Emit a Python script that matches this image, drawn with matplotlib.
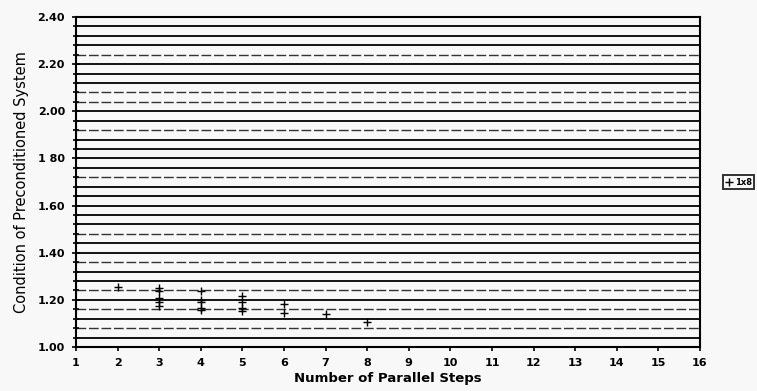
import matplotlib
matplotlib.use("Agg")
import matplotlib.pyplot as plt
import numpy as np

# Data
steps = [2, 3, 3, 3, 3, 3, 4, 4, 4, 4, 4, 5, 5, 5, 5, 6, 6, 7, 8]
condition = [1.256, 1.250, 1.236, 1.208, 1.193, 1.172,
             1.236, 1.200, 1.192, 1.165, 1.156,
             1.218, 1.190, 1.166, 1.152,
             1.184, 1.144, 1.141, 1.106]
series_label = "1x8"

x_ticks = list(range(1, 17))
y_ticks = [1.00, 1.20, 1.40, 1.60, 1.80, 2.00, 2.20, 2.40]
y_tick_labels = ["1.00", "1.20", "1.40", "1.60", "1 80", "2.00", "2.20", "2.40"]
grid_levels = [round(1.0 + 0.04 * i, 2) for i in range(1, 35)]
faint_levels = [2.24, 2.08, 2.04, 1.92, 1.72, 1.48, 1.36, 1.24, 1.16, 1.08]

bg = "#f8f8f8"
fig = plt.figure(figsize=(7.57, 3.91), dpi=100, facecolor=bg)
ax = fig.add_axes([0.1004, 0.1125, 0.8243, 0.844])
ax.set_facecolor(bg)

for lv in grid_levels:
    if lv in faint_levels:
        ax.axhline(lv, color="#333333", lw=1.0, ls=(0, (7, 2)), zorder=1)
    else:
        ax.axhline(lv, color="black", lw=1.3, zorder=1)

ax.plot(steps, condition, ls="none", marker="+", ms=6, mew=1.0,
        color="black", label=series_label, zorder=3)

ax.set_xlim(1, 16)
ax.set_ylim(1.0, 2.4)
ax.set_xticks(x_ticks)
ax.set_xticklabels([str(t) for t in x_ticks], fontsize=8, fontweight="bold")
ax.set_yticks(y_ticks)
ax.set_yticklabels(y_tick_labels, fontsize=8, fontweight="bold")
ax.set_yticks(np.arange(1.0, 2.4001, 0.04), minor=True)
ax.tick_params(axis="y", which="major", direction="inout", length=6, width=1.2, pad=5)
ax.tick_params(axis="y", which="minor", direction="inout", length=5, width=1.2)
ax.tick_params(axis="x", which="major", direction="out", length=3, width=1.2, pad=5)

for s in ax.spines.values():
    s.set_linewidth(1.5)
    s.set_color("black")

ax.set_xlabel("Number of Parallel Steps", fontsize=9.5, fontweight="bold", labelpad=3)
ax.set_ylabel("Condition of Preconditioned System", fontsize=10.5, labelpad=6)

leg = ax.legend(loc="center left", bbox_to_anchor=(1.03, 0.5),
                prop={"size": 6, "weight": "bold"},
                frameon=True, fancybox=False, edgecolor="black",
                handlelength=0.8, handletextpad=0.3, borderpad=0.3,
                markerscale=0.9)
leg.get_frame().set_linewidth(1.4)
leg.get_frame().set_facecolor(bg)

fig.savefig("out.png", dpi=100, facecolor=bg)
